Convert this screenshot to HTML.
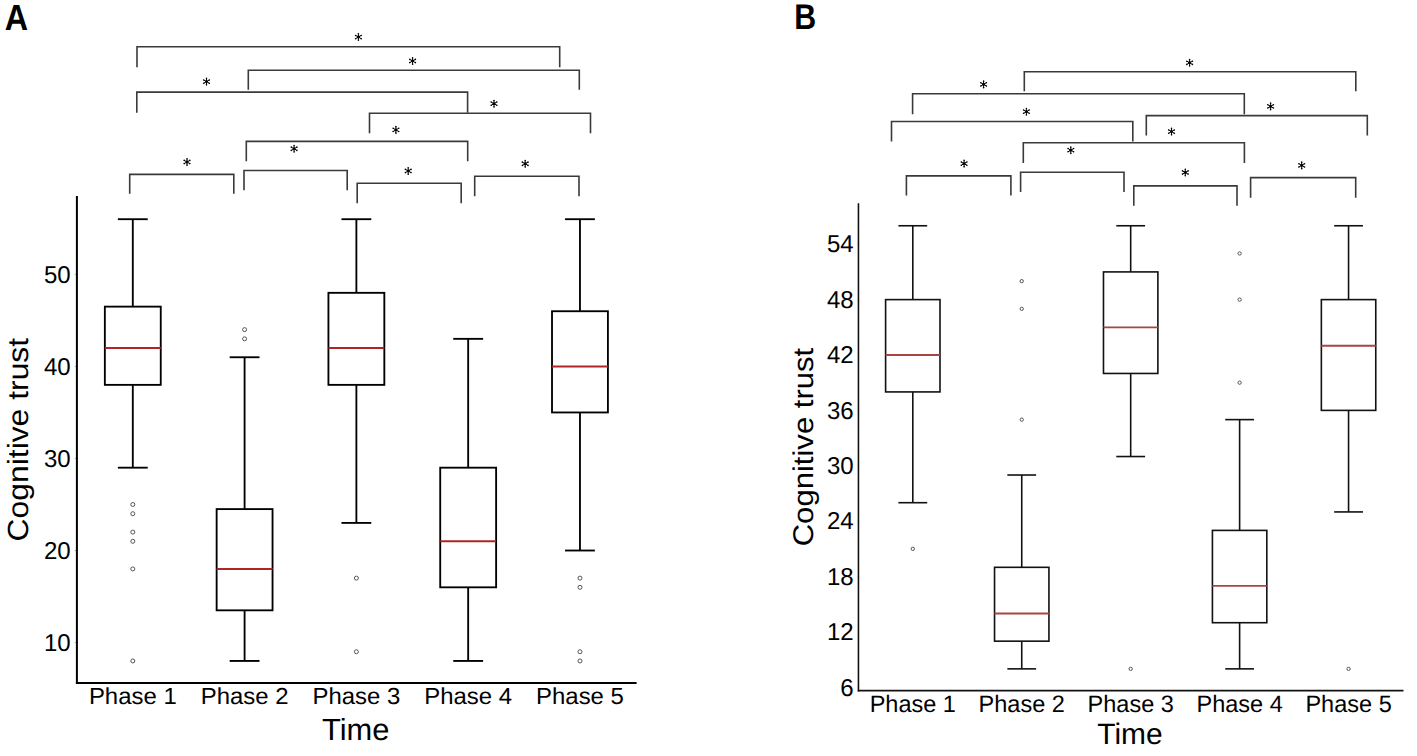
<!DOCTYPE html>
<html><head><meta charset="utf-8"><title>Cognitive trust box plots</title>
<style>html,body{margin:0;padding:0;background:#fff;overflow:hidden}svg{display:block}</style>
</head><body>
<svg width="1417" height="756" viewBox="0 0 1417 756">
<rect width="1417" height="756" fill="#fff"/>
<line x1="76.9" y1="196" x2="76.9" y2="683.9" stroke="#000" stroke-width="2"/>
<line x1="75.9" y1="682.9" x2="636.6" y2="682.9" stroke="#000" stroke-width="2"/>
<line x1="74.8" y1="642.54" x2="76" y2="642.54" stroke="#999" stroke-width="1"/>
<text transform="translate(70.60 650.74) scale(0.9800 1)" font-family="Liberation Sans, sans-serif" font-size="24.5" font-weight="normal" text-rendering="geometricPrecision" text-anchor="end" fill="#000">10</text>
<line x1="74.8" y1="550.51" x2="76" y2="550.51" stroke="#999" stroke-width="1"/>
<text transform="translate(70.60 558.71) scale(0.9800 1)" font-family="Liberation Sans, sans-serif" font-size="24.5" font-weight="normal" text-rendering="geometricPrecision" text-anchor="end" fill="#000">20</text>
<line x1="74.8" y1="458.48" x2="76" y2="458.48" stroke="#999" stroke-width="1"/>
<text transform="translate(70.60 466.68) scale(0.9800 1)" font-family="Liberation Sans, sans-serif" font-size="24.5" font-weight="normal" text-rendering="geometricPrecision" text-anchor="end" fill="#000">30</text>
<line x1="74.8" y1="366.45" x2="76" y2="366.45" stroke="#999" stroke-width="1"/>
<text transform="translate(70.60 374.65) scale(0.9800 1)" font-family="Liberation Sans, sans-serif" font-size="24.5" font-weight="normal" text-rendering="geometricPrecision" text-anchor="end" fill="#000">40</text>
<line x1="74.8" y1="274.42" x2="76" y2="274.42" stroke="#999" stroke-width="1"/>
<text transform="translate(70.60 282.62) scale(0.9800 1)" font-family="Liberation Sans, sans-serif" font-size="24.5" font-weight="normal" text-rendering="geometricPrecision" text-anchor="end" fill="#000">50</text>
<line x1="132.80" y1="306.63" x2="132.80" y2="219.20" stroke="#000" stroke-width="1.85"/>
<line x1="132.80" y1="384.86" x2="132.80" y2="467.68" stroke="#000" stroke-width="1.85"/>
<line x1="118.80" y1="219.20" x2="146.80" y2="219.20" stroke="#000" stroke-width="1.85" stroke-linecap="square"/>
<line x1="118.80" y1="467.68" x2="146.80" y2="467.68" stroke="#000" stroke-width="1.85" stroke-linecap="square"/>
<rect x="104.85" y="306.63" width="55.90" height="78.23" fill="none" stroke="#000" stroke-width="1.85"/>
<line x1="104.85" y1="348.04" x2="160.75" y2="348.04" stroke="#ad2626" stroke-width="2"/>
<circle cx="132.80" cy="504.50" r="2.0" fill="none" stroke="#555" stroke-width="1.0"/>
<circle cx="132.80" cy="513.70" r="2.0" fill="none" stroke="#555" stroke-width="1.0"/>
<circle cx="132.80" cy="532.10" r="2.0" fill="none" stroke="#555" stroke-width="1.0"/>
<circle cx="132.80" cy="541.31" r="2.0" fill="none" stroke="#555" stroke-width="1.0"/>
<circle cx="132.80" cy="568.92" r="2.0" fill="none" stroke="#555" stroke-width="1.0"/>
<circle cx="132.80" cy="660.95" r="2.0" fill="none" stroke="#555" stroke-width="1.0"/>
<line x1="244.59" y1="509.10" x2="244.59" y2="357.25" stroke="#000" stroke-width="1.85"/>
<line x1="244.59" y1="610.33" x2="244.59" y2="660.95" stroke="#000" stroke-width="1.85"/>
<line x1="230.59" y1="357.25" x2="258.59" y2="357.25" stroke="#000" stroke-width="1.85" stroke-linecap="square"/>
<line x1="230.59" y1="660.95" x2="258.59" y2="660.95" stroke="#000" stroke-width="1.85" stroke-linecap="square"/>
<rect x="216.64" y="509.10" width="55.90" height="101.23" fill="none" stroke="#000" stroke-width="1.85"/>
<line x1="216.64" y1="568.92" x2="272.54" y2="568.92" stroke="#ad2626" stroke-width="2"/>
<circle cx="244.59" cy="338.84" r="2.0" fill="none" stroke="#555" stroke-width="1.0"/>
<circle cx="244.59" cy="329.64" r="2.0" fill="none" stroke="#555" stroke-width="1.0"/>
<line x1="356.38" y1="292.83" x2="356.38" y2="219.20" stroke="#000" stroke-width="1.85"/>
<line x1="356.38" y1="384.86" x2="356.38" y2="522.90" stroke="#000" stroke-width="1.85"/>
<line x1="342.38" y1="219.20" x2="370.38" y2="219.20" stroke="#000" stroke-width="1.85" stroke-linecap="square"/>
<line x1="342.38" y1="522.90" x2="370.38" y2="522.90" stroke="#000" stroke-width="1.85" stroke-linecap="square"/>
<rect x="328.43" y="292.83" width="55.90" height="92.03" fill="none" stroke="#000" stroke-width="1.85"/>
<line x1="328.43" y1="348.04" x2="384.33" y2="348.04" stroke="#ad2626" stroke-width="2"/>
<circle cx="356.38" cy="578.12" r="2.0" fill="none" stroke="#555" stroke-width="1.0"/>
<circle cx="356.38" cy="651.74" r="2.0" fill="none" stroke="#555" stroke-width="1.0"/>
<line x1="468.17" y1="467.68" x2="468.17" y2="338.84" stroke="#000" stroke-width="1.85"/>
<line x1="468.17" y1="587.32" x2="468.17" y2="660.95" stroke="#000" stroke-width="1.85"/>
<line x1="454.17" y1="338.84" x2="482.17" y2="338.84" stroke="#000" stroke-width="1.85" stroke-linecap="square"/>
<line x1="454.17" y1="660.95" x2="482.17" y2="660.95" stroke="#000" stroke-width="1.85" stroke-linecap="square"/>
<rect x="440.22" y="467.68" width="55.90" height="119.64" fill="none" stroke="#000" stroke-width="1.85"/>
<line x1="440.22" y1="541.31" x2="496.12" y2="541.31" stroke="#ad2626" stroke-width="2"/>
<line x1="579.96" y1="311.23" x2="579.96" y2="219.20" stroke="#000" stroke-width="1.85"/>
<line x1="579.96" y1="412.46" x2="579.96" y2="550.51" stroke="#000" stroke-width="1.85"/>
<line x1="565.96" y1="219.20" x2="593.96" y2="219.20" stroke="#000" stroke-width="1.85" stroke-linecap="square"/>
<line x1="565.96" y1="550.51" x2="593.96" y2="550.51" stroke="#000" stroke-width="1.85" stroke-linecap="square"/>
<rect x="552.01" y="311.23" width="55.90" height="101.23" fill="none" stroke="#000" stroke-width="1.85"/>
<line x1="552.01" y1="366.45" x2="607.91" y2="366.45" stroke="#ad2626" stroke-width="2"/>
<circle cx="579.96" cy="578.12" r="2.0" fill="none" stroke="#555" stroke-width="1.0"/>
<circle cx="579.96" cy="587.32" r="2.0" fill="none" stroke="#555" stroke-width="1.0"/>
<circle cx="579.96" cy="651.74" r="2.0" fill="none" stroke="#555" stroke-width="1.0"/>
<circle cx="579.96" cy="660.95" r="2.0" fill="none" stroke="#555" stroke-width="1.0"/>
<text transform="translate(132.80 704.15) scale(1.0270 1)" font-family="Liberation Sans, sans-serif" font-size="23.3" font-weight="normal" text-rendering="geometricPrecision" text-anchor="middle" fill="#000">Phase 1</text>
<text transform="translate(244.59 704.15) scale(1.0270 1)" font-family="Liberation Sans, sans-serif" font-size="23.3" font-weight="normal" text-rendering="geometricPrecision" text-anchor="middle" fill="#000">Phase 2</text>
<text transform="translate(356.38 704.15) scale(1.0270 1)" font-family="Liberation Sans, sans-serif" font-size="23.3" font-weight="normal" text-rendering="geometricPrecision" text-anchor="middle" fill="#000">Phase 3</text>
<text transform="translate(468.17 704.15) scale(1.0270 1)" font-family="Liberation Sans, sans-serif" font-size="23.3" font-weight="normal" text-rendering="geometricPrecision" text-anchor="middle" fill="#000">Phase 4</text>
<text transform="translate(579.96 704.15) scale(1.0270 1)" font-family="Liberation Sans, sans-serif" font-size="23.3" font-weight="normal" text-rendering="geometricPrecision" text-anchor="middle" fill="#000">Phase 5</text>
<text transform="translate(355.65 739.50) scale(1.0120 1)" font-family="Liberation Sans, sans-serif" font-size="30.5" font-weight="normal" text-rendering="geometricPrecision" text-anchor="middle" fill="#000">Time</text>
<text transform="translate(28.40 439.65) rotate(-90) scale(1.0945 1)" font-family="Liberation Sans, sans-serif" font-size="29.1" font-weight="normal" text-rendering="geometricPrecision" text-anchor="middle" fill="#000">Cognitive trust</text>
<text transform="translate(16.40 29.75) scale(0.8940 1)" font-family="Liberation Sans, sans-serif" font-size="36.2" font-weight="bold" text-rendering="geometricPrecision" text-anchor="middle" fill="#000">A</text>
<path d="M137.00 67.20V46.70H559.70V67.20" fill="none" stroke="#3a3a3a" stroke-width="1.6"/>
<path d="M248.30 89.70V70.20H579.30V89.70" fill="none" stroke="#3a3a3a" stroke-width="1.6"/>
<path d="M136.80 112.70V92.10H467.60V112.70" fill="none" stroke="#3a3a3a" stroke-width="1.6"/>
<path d="M369.50 133.20V113.20H590.50V133.20" fill="none" stroke="#3a3a3a" stroke-width="1.6"/>
<path d="M246.30 161.30V141.40H467.70V161.30" fill="none" stroke="#3a3a3a" stroke-width="1.6"/>
<path d="M129.70 193.70V174.40H233.80V193.70" fill="none" stroke="#3a3a3a" stroke-width="1.6"/>
<path d="M244.00 190.20V170.50H347.20V190.20" fill="none" stroke="#3a3a3a" stroke-width="1.6"/>
<path d="M357.20 203.30V183.20H461.20V203.30" fill="none" stroke="#3a3a3a" stroke-width="1.6"/>
<path d="M474.70 196.30V176.20H579.00V196.30" fill="none" stroke="#3a3a3a" stroke-width="1.6"/>
<g fill="#000"><path d="M358.40 33.80L358.40 40.30M355.59 35.43L361.21 38.68M361.21 35.43L355.59 38.68" stroke="#000" stroke-width="1.0"/><circle cx="358.40" cy="33.80" r="0.8"/><circle cx="358.40" cy="40.30" r="0.8"/><circle cx="355.59" cy="35.43" r="0.8"/><circle cx="361.21" cy="38.68" r="0.8"/><circle cx="361.21" cy="35.43" r="0.8"/><circle cx="355.59" cy="38.68" r="0.8"/><circle cx="358.40" cy="37.05" r="1.45"/></g>
<g fill="#000"><path d="M412.60 57.75L412.60 64.25M409.79 59.38L415.41 62.62M415.41 59.38L409.79 62.62" stroke="#000" stroke-width="1.0"/><circle cx="412.60" cy="57.75" r="0.8"/><circle cx="412.60" cy="64.25" r="0.8"/><circle cx="409.79" cy="59.38" r="0.8"/><circle cx="415.41" cy="62.62" r="0.8"/><circle cx="415.41" cy="59.38" r="0.8"/><circle cx="409.79" cy="62.62" r="0.8"/><circle cx="412.60" cy="61.00" r="1.45"/></g>
<g fill="#000"><path d="M206.50 78.35L206.50 84.85M203.69 79.97L209.31 83.22M209.31 79.97L203.69 83.22" stroke="#000" stroke-width="1.0"/><circle cx="206.50" cy="78.35" r="0.8"/><circle cx="206.50" cy="84.85" r="0.8"/><circle cx="203.69" cy="79.97" r="0.8"/><circle cx="209.31" cy="83.22" r="0.8"/><circle cx="209.31" cy="79.97" r="0.8"/><circle cx="203.69" cy="83.22" r="0.8"/><circle cx="206.50" cy="81.60" r="1.45"/></g>
<g fill="#000"><path d="M494.00 100.45L494.00 106.95M491.19 102.07L496.81 105.32M496.81 102.07L491.19 105.32" stroke="#000" stroke-width="1.0"/><circle cx="494.00" cy="100.45" r="0.8"/><circle cx="494.00" cy="106.95" r="0.8"/><circle cx="491.19" cy="102.07" r="0.8"/><circle cx="496.81" cy="105.32" r="0.8"/><circle cx="496.81" cy="102.07" r="0.8"/><circle cx="491.19" cy="105.32" r="0.8"/><circle cx="494.00" cy="103.70" r="1.45"/></g>
<g fill="#000"><path d="M395.90 126.65L395.90 133.15M393.09 128.28L398.71 131.53M398.71 128.28L393.09 131.53" stroke="#000" stroke-width="1.0"/><circle cx="395.90" cy="126.65" r="0.8"/><circle cx="395.90" cy="133.15" r="0.8"/><circle cx="393.09" cy="128.28" r="0.8"/><circle cx="398.71" cy="131.53" r="0.8"/><circle cx="398.71" cy="128.28" r="0.8"/><circle cx="393.09" cy="131.53" r="0.8"/><circle cx="395.90" cy="129.90" r="1.45"/></g>
<g fill="#000"><path d="M294.10 145.55L294.10 152.05M291.29 147.17L296.91 150.42M296.91 147.17L291.29 150.42" stroke="#000" stroke-width="1.0"/><circle cx="294.10" cy="145.55" r="0.8"/><circle cx="294.10" cy="152.05" r="0.8"/><circle cx="291.29" cy="147.17" r="0.8"/><circle cx="296.91" cy="150.42" r="0.8"/><circle cx="296.91" cy="147.17" r="0.8"/><circle cx="291.29" cy="150.42" r="0.8"/><circle cx="294.10" cy="148.80" r="1.45"/></g>
<g fill="#000"><path d="M187.00 158.75L187.00 165.25M184.19 160.38L189.81 163.62M189.81 160.38L184.19 163.62" stroke="#000" stroke-width="1.0"/><circle cx="187.00" cy="158.75" r="0.8"/><circle cx="187.00" cy="165.25" r="0.8"/><circle cx="184.19" cy="160.38" r="0.8"/><circle cx="189.81" cy="163.62" r="0.8"/><circle cx="189.81" cy="160.38" r="0.8"/><circle cx="184.19" cy="163.62" r="0.8"/><circle cx="187.00" cy="162.00" r="1.45"/></g>
<g fill="#000"><path d="M408.20 167.75L408.20 174.25M405.39 169.38L411.01 172.62M411.01 169.38L405.39 172.62" stroke="#000" stroke-width="1.0"/><circle cx="408.20" cy="167.75" r="0.8"/><circle cx="408.20" cy="174.25" r="0.8"/><circle cx="405.39" cy="169.38" r="0.8"/><circle cx="411.01" cy="172.62" r="0.8"/><circle cx="411.01" cy="169.38" r="0.8"/><circle cx="405.39" cy="172.62" r="0.8"/><circle cx="408.20" cy="171.00" r="1.45"/></g>
<g fill="#000"><path d="M525.20 160.55L525.20 167.05M522.39 162.17L528.01 165.42M528.01 162.17L522.39 165.42" stroke="#000" stroke-width="1.0"/><circle cx="525.20" cy="160.55" r="0.8"/><circle cx="525.20" cy="167.05" r="0.8"/><circle cx="522.39" cy="162.17" r="0.8"/><circle cx="528.01" cy="165.42" r="0.8"/><circle cx="528.01" cy="162.17" r="0.8"/><circle cx="522.39" cy="165.42" r="0.8"/><circle cx="525.20" cy="163.80" r="1.45"/></g>
<line x1="858.45" y1="203.3" x2="858.45" y2="691.4" stroke="#111" stroke-width="1.6"/>
<line x1="857.8" y1="690.6" x2="1403.5" y2="690.6" stroke="#111" stroke-width="1.6"/>
<line x1="857" y1="687.33" x2="858" y2="687.33" stroke="#999" stroke-width="1"/>
<text transform="translate(853.60 695.53) scale(0.9800 1)" font-family="Liberation Sans, sans-serif" font-size="24.5" font-weight="normal" text-rendering="geometricPrecision" text-anchor="end" fill="#000">6</text>
<line x1="857" y1="631.94" x2="858" y2="631.94" stroke="#999" stroke-width="1"/>
<text transform="translate(853.60 640.14) scale(0.9800 1)" font-family="Liberation Sans, sans-serif" font-size="24.5" font-weight="normal" text-rendering="geometricPrecision" text-anchor="end" fill="#000">12</text>
<line x1="857" y1="576.55" x2="858" y2="576.55" stroke="#999" stroke-width="1"/>
<text transform="translate(853.60 584.75) scale(0.9800 1)" font-family="Liberation Sans, sans-serif" font-size="24.5" font-weight="normal" text-rendering="geometricPrecision" text-anchor="end" fill="#000">18</text>
<line x1="857" y1="521.16" x2="858" y2="521.16" stroke="#999" stroke-width="1"/>
<text transform="translate(853.60 529.37) scale(0.9800 1)" font-family="Liberation Sans, sans-serif" font-size="24.5" font-weight="normal" text-rendering="geometricPrecision" text-anchor="end" fill="#000">24</text>
<line x1="857" y1="465.78" x2="858" y2="465.78" stroke="#999" stroke-width="1"/>
<text transform="translate(853.60 473.98) scale(0.9800 1)" font-family="Liberation Sans, sans-serif" font-size="24.5" font-weight="normal" text-rendering="geometricPrecision" text-anchor="end" fill="#000">30</text>
<line x1="857" y1="410.39" x2="858" y2="410.39" stroke="#999" stroke-width="1"/>
<text transform="translate(853.60 418.59) scale(0.9800 1)" font-family="Liberation Sans, sans-serif" font-size="24.5" font-weight="normal" text-rendering="geometricPrecision" text-anchor="end" fill="#000">36</text>
<line x1="857" y1="355.00" x2="858" y2="355.00" stroke="#999" stroke-width="1"/>
<text transform="translate(853.60 363.20) scale(0.9800 1)" font-family="Liberation Sans, sans-serif" font-size="24.5" font-weight="normal" text-rendering="geometricPrecision" text-anchor="end" fill="#000">42</text>
<line x1="857" y1="299.61" x2="858" y2="299.61" stroke="#999" stroke-width="1"/>
<text transform="translate(853.60 307.81) scale(0.9800 1)" font-family="Liberation Sans, sans-serif" font-size="24.5" font-weight="normal" text-rendering="geometricPrecision" text-anchor="end" fill="#000">48</text>
<line x1="857" y1="244.22" x2="858" y2="244.22" stroke="#999" stroke-width="1"/>
<text transform="translate(853.60 252.42) scale(0.9800 1)" font-family="Liberation Sans, sans-serif" font-size="24.5" font-weight="normal" text-rendering="geometricPrecision" text-anchor="end" fill="#000">54</text>
<line x1="912.80" y1="299.61" x2="912.80" y2="225.76" stroke="#111" stroke-width="1.6"/>
<line x1="912.80" y1="391.92" x2="912.80" y2="502.70" stroke="#111" stroke-width="1.6"/>
<line x1="899.20" y1="225.76" x2="926.40" y2="225.76" stroke="#111" stroke-width="1.6" stroke-linecap="square"/>
<line x1="899.20" y1="502.70" x2="926.40" y2="502.70" stroke="#111" stroke-width="1.6" stroke-linecap="square"/>
<rect x="885.60" y="299.61" width="54.40" height="92.31" fill="none" stroke="#111" stroke-width="1.6"/>
<line x1="885.60" y1="355.00" x2="940.00" y2="355.00" stroke="#a94444" stroke-width="1.8"/>
<circle cx="912.80" cy="548.86" r="1.65" fill="none" stroke="#555" stroke-width="1.0"/>
<line x1="1021.74" y1="567.32" x2="1021.74" y2="475.01" stroke="#111" stroke-width="1.6"/>
<line x1="1021.74" y1="641.17" x2="1021.74" y2="668.87" stroke="#111" stroke-width="1.6"/>
<line x1="1008.14" y1="475.01" x2="1035.34" y2="475.01" stroke="#111" stroke-width="1.6" stroke-linecap="square"/>
<line x1="1008.14" y1="668.87" x2="1035.34" y2="668.87" stroke="#111" stroke-width="1.6" stroke-linecap="square"/>
<rect x="994.54" y="567.32" width="54.40" height="73.85" fill="none" stroke="#111" stroke-width="1.6"/>
<line x1="994.54" y1="613.48" x2="1048.94" y2="613.48" stroke="#a94444" stroke-width="1.8"/>
<circle cx="1021.74" cy="419.62" r="1.65" fill="none" stroke="#555" stroke-width="1.0"/>
<circle cx="1021.74" cy="308.84" r="1.65" fill="none" stroke="#555" stroke-width="1.0"/>
<circle cx="1021.74" cy="281.15" r="1.65" fill="none" stroke="#555" stroke-width="1.0"/>
<line x1="1130.68" y1="271.91" x2="1130.68" y2="225.76" stroke="#111" stroke-width="1.6"/>
<line x1="1130.68" y1="373.46" x2="1130.68" y2="456.54" stroke="#111" stroke-width="1.6"/>
<line x1="1117.08" y1="225.76" x2="1144.28" y2="225.76" stroke="#111" stroke-width="1.6" stroke-linecap="square"/>
<line x1="1117.08" y1="456.54" x2="1144.28" y2="456.54" stroke="#111" stroke-width="1.6" stroke-linecap="square"/>
<rect x="1103.48" y="271.91" width="54.40" height="101.55" fill="none" stroke="#111" stroke-width="1.6"/>
<line x1="1103.48" y1="327.30" x2="1157.88" y2="327.30" stroke="#a94444" stroke-width="1.8"/>
<circle cx="1130.68" cy="668.87" r="1.65" fill="none" stroke="#555" stroke-width="1.0"/>
<line x1="1239.62" y1="530.40" x2="1239.62" y2="419.62" stroke="#111" stroke-width="1.6"/>
<line x1="1239.62" y1="622.71" x2="1239.62" y2="668.87" stroke="#111" stroke-width="1.6"/>
<line x1="1226.02" y1="419.62" x2="1253.22" y2="419.62" stroke="#111" stroke-width="1.6" stroke-linecap="square"/>
<line x1="1226.02" y1="668.87" x2="1253.22" y2="668.87" stroke="#111" stroke-width="1.6" stroke-linecap="square"/>
<rect x="1212.42" y="530.40" width="54.40" height="92.31" fill="none" stroke="#111" stroke-width="1.6"/>
<line x1="1212.42" y1="585.79" x2="1266.82" y2="585.79" stroke="#a94444" stroke-width="1.8"/>
<circle cx="1239.62" cy="382.69" r="1.65" fill="none" stroke="#555" stroke-width="1.0"/>
<circle cx="1239.62" cy="299.61" r="1.65" fill="none" stroke="#555" stroke-width="1.0"/>
<circle cx="1239.62" cy="253.45" r="1.65" fill="none" stroke="#555" stroke-width="1.0"/>
<line x1="1348.56" y1="299.61" x2="1348.56" y2="225.76" stroke="#111" stroke-width="1.6"/>
<line x1="1348.56" y1="410.39" x2="1348.56" y2="511.93" stroke="#111" stroke-width="1.6"/>
<line x1="1334.96" y1="225.76" x2="1362.16" y2="225.76" stroke="#111" stroke-width="1.6" stroke-linecap="square"/>
<line x1="1334.96" y1="511.93" x2="1362.16" y2="511.93" stroke="#111" stroke-width="1.6" stroke-linecap="square"/>
<rect x="1321.36" y="299.61" width="54.40" height="110.78" fill="none" stroke="#111" stroke-width="1.6"/>
<line x1="1321.36" y1="345.77" x2="1375.76" y2="345.77" stroke="#a94444" stroke-width="1.8"/>
<circle cx="1348.56" cy="668.87" r="1.65" fill="none" stroke="#555" stroke-width="1.0"/>
<text transform="translate(912.80 711.70) scale(0.9880 1)" font-family="Liberation Sans, sans-serif" font-size="23.8" font-weight="normal" text-rendering="geometricPrecision" text-anchor="middle" fill="#000">Phase 1</text>
<text transform="translate(1021.74 711.70) scale(0.9880 1)" font-family="Liberation Sans, sans-serif" font-size="23.8" font-weight="normal" text-rendering="geometricPrecision" text-anchor="middle" fill="#000">Phase 2</text>
<text transform="translate(1130.68 711.70) scale(0.9880 1)" font-family="Liberation Sans, sans-serif" font-size="23.8" font-weight="normal" text-rendering="geometricPrecision" text-anchor="middle" fill="#000">Phase 3</text>
<text transform="translate(1239.62 711.70) scale(0.9880 1)" font-family="Liberation Sans, sans-serif" font-size="23.8" font-weight="normal" text-rendering="geometricPrecision" text-anchor="middle" fill="#000">Phase 4</text>
<text transform="translate(1348.56 711.70) scale(0.9880 1)" font-family="Liberation Sans, sans-serif" font-size="23.8" font-weight="normal" text-rendering="geometricPrecision" text-anchor="middle" fill="#000">Phase 5</text>
<text transform="translate(1129.95 743.50) scale(1.0120 1)" font-family="Liberation Sans, sans-serif" font-size="29.6" font-weight="normal" text-rendering="geometricPrecision" text-anchor="middle" fill="#000">Time</text>
<text transform="translate(812.80 447.05) rotate(-90) scale(1.0900 1)" font-family="Liberation Sans, sans-serif" font-size="28.5" font-weight="normal" text-rendering="geometricPrecision" text-anchor="middle" fill="#000">Cognitive trust</text>
<text transform="translate(805.15 29.20) scale(0.8480 1)" font-family="Liberation Sans, sans-serif" font-size="35.8" font-weight="bold" text-rendering="geometricPrecision" text-anchor="middle" fill="#000">B</text>
<path d="M1024.30 91.20V71.70H1355.80V91.20" fill="none" stroke="#3a3a3a" stroke-width="1.6"/>
<path d="M912.60 114.20V93.80H1244.30V114.20" fill="none" stroke="#3a3a3a" stroke-width="1.6"/>
<path d="M891.50 141.50V121.50H1132.80V141.50" fill="none" stroke="#3a3a3a" stroke-width="1.6"/>
<path d="M1146.30 135.40V115.60H1367.30V135.40" fill="none" stroke="#3a3a3a" stroke-width="1.6"/>
<path d="M1023.30 162.90V142.80H1244.40V162.90" fill="none" stroke="#3a3a3a" stroke-width="1.6"/>
<path d="M906.40 195.60V175.90H1010.90V195.60" fill="none" stroke="#3a3a3a" stroke-width="1.6"/>
<path d="M1020.60 192.10V172.30H1124.00V192.10" fill="none" stroke="#3a3a3a" stroke-width="1.6"/>
<path d="M1133.80 205.70V185.90H1237.00V205.70" fill="none" stroke="#3a3a3a" stroke-width="1.6"/>
<path d="M1250.60 197.70V177.60H1355.70V197.70" fill="none" stroke="#3a3a3a" stroke-width="1.6"/>
<g fill="#000"><path d="M1189.60 59.55L1189.60 66.05M1186.79 61.18L1192.41 64.42M1192.41 61.18L1186.79 64.42" stroke="#000" stroke-width="1.0"/><circle cx="1189.60" cy="59.55" r="0.8"/><circle cx="1189.60" cy="66.05" r="0.8"/><circle cx="1186.79" cy="61.18" r="0.8"/><circle cx="1192.41" cy="64.42" r="0.8"/><circle cx="1192.41" cy="61.18" r="0.8"/><circle cx="1186.79" cy="64.42" r="0.8"/><circle cx="1189.60" cy="62.80" r="1.45"/></g>
<g fill="#000"><path d="M983.60 81.15L983.60 87.65M980.79 82.77L986.41 86.02M986.41 82.77L980.79 86.02" stroke="#000" stroke-width="1.0"/><circle cx="983.60" cy="81.15" r="0.8"/><circle cx="983.60" cy="87.65" r="0.8"/><circle cx="980.79" cy="82.77" r="0.8"/><circle cx="986.41" cy="86.02" r="0.8"/><circle cx="986.41" cy="82.77" r="0.8"/><circle cx="980.79" cy="86.02" r="0.8"/><circle cx="983.60" cy="84.40" r="1.45"/></g>
<g fill="#000"><path d="M1026.40 108.45L1026.40 114.95M1023.59 110.07L1029.21 113.32M1029.21 110.07L1023.59 113.32" stroke="#000" stroke-width="1.0"/><circle cx="1026.40" cy="108.45" r="0.8"/><circle cx="1026.40" cy="114.95" r="0.8"/><circle cx="1023.59" cy="110.07" r="0.8"/><circle cx="1029.21" cy="113.32" r="0.8"/><circle cx="1029.21" cy="110.07" r="0.8"/><circle cx="1023.59" cy="113.32" r="0.8"/><circle cx="1026.40" cy="111.70" r="1.45"/></g>
<g fill="#000"><path d="M1270.60 103.15L1270.60 109.65M1267.79 104.77L1273.41 108.02M1273.41 104.77L1267.79 108.02" stroke="#000" stroke-width="1.0"/><circle cx="1270.60" cy="103.15" r="0.8"/><circle cx="1270.60" cy="109.65" r="0.8"/><circle cx="1267.79" cy="104.77" r="0.8"/><circle cx="1273.41" cy="108.02" r="0.8"/><circle cx="1273.41" cy="104.77" r="0.8"/><circle cx="1267.79" cy="108.02" r="0.8"/><circle cx="1270.60" cy="106.40" r="1.45"/></g>
<g fill="#000"><path d="M1171.50 128.35L1171.50 134.85M1168.69 129.97L1174.31 133.22M1174.31 129.97L1168.69 133.22" stroke="#000" stroke-width="1.0"/><circle cx="1171.50" cy="128.35" r="0.8"/><circle cx="1171.50" cy="134.85" r="0.8"/><circle cx="1168.69" cy="129.97" r="0.8"/><circle cx="1174.31" cy="133.22" r="0.8"/><circle cx="1174.31" cy="129.97" r="0.8"/><circle cx="1168.69" cy="133.22" r="0.8"/><circle cx="1171.50" cy="131.60" r="1.45"/></g>
<g fill="#000"><path d="M1070.80 146.95L1070.80 153.45M1067.99 148.57L1073.61 151.82M1073.61 148.57L1067.99 151.82" stroke="#000" stroke-width="1.0"/><circle cx="1070.80" cy="146.95" r="0.8"/><circle cx="1070.80" cy="153.45" r="0.8"/><circle cx="1067.99" cy="148.57" r="0.8"/><circle cx="1073.61" cy="151.82" r="0.8"/><circle cx="1073.61" cy="148.57" r="0.8"/><circle cx="1067.99" cy="151.82" r="0.8"/><circle cx="1070.80" cy="150.20" r="1.45"/></g>
<g fill="#000"><path d="M964.10 160.35L964.10 166.85M961.29 161.97L966.91 165.22M966.91 161.97L961.29 165.22" stroke="#000" stroke-width="1.0"/><circle cx="964.10" cy="160.35" r="0.8"/><circle cx="964.10" cy="166.85" r="0.8"/><circle cx="961.29" cy="161.97" r="0.8"/><circle cx="966.91" cy="165.22" r="0.8"/><circle cx="966.91" cy="161.97" r="0.8"/><circle cx="961.29" cy="165.22" r="0.8"/><circle cx="964.10" cy="163.60" r="1.45"/></g>
<g fill="#000"><path d="M1185.30 169.25L1185.30 175.75M1182.49 170.88L1188.11 174.12M1188.11 170.88L1182.49 174.12" stroke="#000" stroke-width="1.0"/><circle cx="1185.30" cy="169.25" r="0.8"/><circle cx="1185.30" cy="175.75" r="0.8"/><circle cx="1182.49" cy="170.88" r="0.8"/><circle cx="1188.11" cy="174.12" r="0.8"/><circle cx="1188.11" cy="170.88" r="0.8"/><circle cx="1182.49" cy="174.12" r="0.8"/><circle cx="1185.30" cy="172.50" r="1.45"/></g>
<g fill="#000"><path d="M1301.70 162.15L1301.70 168.65M1298.89 163.78L1304.51 167.03M1304.51 163.78L1298.89 167.03" stroke="#000" stroke-width="1.0"/><circle cx="1301.70" cy="162.15" r="0.8"/><circle cx="1301.70" cy="168.65" r="0.8"/><circle cx="1298.89" cy="163.78" r="0.8"/><circle cx="1304.51" cy="167.03" r="0.8"/><circle cx="1304.51" cy="163.78" r="0.8"/><circle cx="1298.89" cy="167.03" r="0.8"/><circle cx="1301.70" cy="165.40" r="1.45"/></g>
</svg>
</body></html>
